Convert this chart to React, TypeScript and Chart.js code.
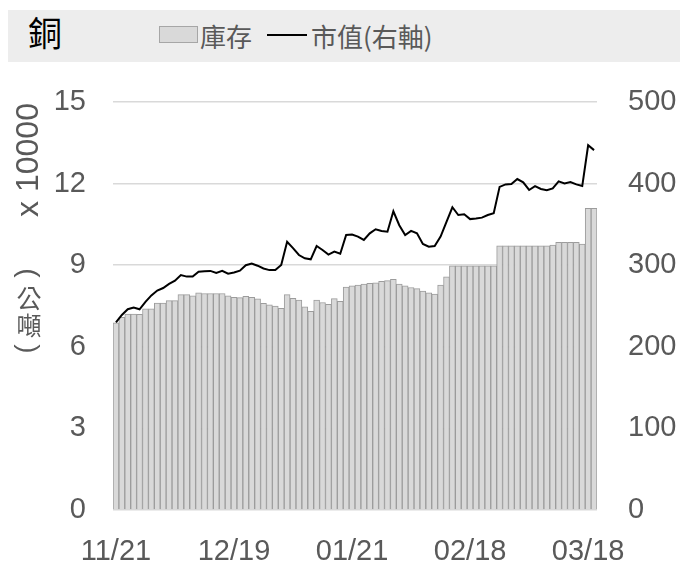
import React, { useEffect, useRef } from "react";
import { Chart, registerables } from "chart.js";

Chart.register(...registerables);

const categories = [
  "11/21", "11/22", "11/25", "11/26", "11/27", "11/28", "11/29",
  "12/02", "12/03", "12/04", "12/05", "12/06", "12/09", "12/10", "12/11", "12/12", "12/13",
  "12/16", "12/17", "12/18", "12/19", "12/20", "12/23", "12/24", "12/27", "12/30", "12/31",
  "01/02", "01/03", "01/06", "01/07", "01/08", "01/09", "01/10", "01/13", "01/14", "01/15",
  "01/16", "01/17", "01/20", "01/21", "01/22", "01/23", "01/24", "01/27", "01/28", "01/29",
  "01/30", "01/31", "02/03", "02/04", "02/05", "02/06", "02/07", "02/10", "02/11", "02/12",
  "02/13", "02/14", "02/17", "02/18", "02/19", "02/20", "02/21", "02/24", "02/25", "02/26",
  "02/27", "02/28", "03/03", "03/04", "03/05", "03/06", "03/07", "03/10", "03/11", "03/12",
  "03/13", "03/14", "03/17", "03/18", "03/19",
];

const shownDateLabels = ["11/21", "12/19", "01/21", "02/18", "03/18"];

// 庫存 (x 10000 公噸)
const stockValues = [
  6.88, 7.08, 7.2, 7.2, 7.19, 7.4, 7.4, 7.61, 7.61, 7.7,
  7.7, 7.92, 7.92, 7.87, 7.98, 7.96, 7.96, 7.96, 7.96, 7.87,
  7.82, 7.81, 7.86, 7.82, 7.76, 7.6, 7.54, 7.5, 7.41, 7.92,
  7.78, 7.72, 7.47, 7.3, 7.72, 7.63, 7.56, 7.77, 7.67, 8.2,
  8.24, 8.27, 8.31, 8.33, 8.35, 8.41, 8.43, 8.48, 8.31, 8.24,
  8.18, 8.14, 8.05, 7.98, 7.94, 8.27, 8.57, 8.98, 8.98, 8.98,
  8.98, 8.98, 8.98, 8.98, 8.98, 9.71, 9.71, 9.71, 9.71, 9.71,
  9.71, 9.71, 9.71, 9.71, 9.74, 9.84, 9.84, 9.84, 9.84, 9.78,
  11.09, 11.09,
];

// 市值 (右軸)
const marketValues = [
  230, 239, 246, 248, 246, 255, 263, 269, 272, 277,
  281, 288, 286, 286, 292, 292.5, 293, 290.5, 293, 289.5,
  291, 293.3, 300, 302, 299.4, 296, 294, 294, 300.2, 328.8,
  321, 312.5, 308.4, 307.2, 323.5, 318.6, 313, 316.6, 314, 337,
  337.5, 335, 331, 339, 344, 342, 341, 366, 349, 337,
  342, 339, 326, 322.7, 323.5, 335, 353, 371, 361.5, 362.4,
  356.5, 357.2, 358.3, 361.5, 363.6, 396, 399, 399.5, 405.6, 401.6,
  392.2, 397, 393.4, 391.8, 394.2, 402.8, 400.3, 402, 399, 397,
  447, 441,
];

const leftTicks = [0, 3, 6, 9, 12, 15];
const rightTicks = [0, 100, 200, 300, 400, 500];

const TICK_COLOR = "#595959";
const NUM_FONT = "'Liberation Sans', Arial, sans-serif";
const CJK_FONT = "'Noto Sans CJK TC', 'Noto Sans CJK SC', sans-serif";

export default function App() {
  const canvasRef = useRef<HTMLCanvasElement | null>(null);

  useEffect(() => {
    const canvas = canvasRef.current;
    if (!canvas) return;
    const chart = new Chart(canvas, {
      data: {
        labels: categories,
        datasets: [
          {
            type: "line",
            label: "市值(右軸)",
            data: marketValues,
            yAxisID: "y1",
            borderColor: "#000000",
            borderWidth: 2,
            pointRadius: 0,
            tension: 0,
            order: 0,
          },
          {
            type: "bar",
            label: "庫存",
            data: stockValues,
            yAxisID: "y",
            backgroundColor: "#d9d9d9",
            borderColor: "#9c9c9c",
            borderWidth: 1,
            borderSkipped: "bottom",
            barPercentage: 1.0,
            categoryPercentage: 1.0,
            order: 1,
          },
        ],
      },
      options: {
        responsive: false,
        animation: false,
        devicePixelRatio: 1,
        layout: { padding: { top: 102, left: 0, right: 0, bottom: 0 } },
        plugins: {
          legend: { display: false },
          tooltip: { enabled: false },
        },
        scales: {
          x: {
            type: "category",
            grid: { display: false },
            border: { display: false },
            ticks: {
              autoSkip: false,
              maxRotation: 0,
              minRotation: 0,
              padding: 17,
              color: TICK_COLOR,
              font: { family: NUM_FONT, size: 29 },
              callback: (_v: any, i: number) =>
                shownDateLabels.includes(categories[i]) ? categories[i] : null,
            },
            afterFit: (s: any) => {
              s.height = 52;
            },
          },
          y: {
            position: "left",
            min: 0,
            max: 15,
            afterBuildTicks: (s: any) => {
              s.ticks = leftTicks.map((v) => ({ value: v }));
            },
            grid: { color: "#d9d9d9", lineWidth: 1.5, drawTicks: false },
            border: { display: false },
            ticks: {
              padding: 27,
              color: TICK_COLOR,
              font: { family: NUM_FONT, size: 29 },
            },
            afterFit: (s: any) => {
              s.width = 113;
            },
          },
          y1: {
            position: "right",
            min: 0,
            max: 500,
            afterBuildTicks: (s: any) => {
              s.ticks = rightTicks.map((v) => ({ value: v }));
            },
            grid: { display: false, drawTicks: false },
            border: { display: false },
            ticks: {
              padding: 31,
              color: TICK_COLOR,
              font: { family: NUM_FONT, size: 29 },
            },
            afterFit: (s: any) => {
              s.width = 83;
            },
          },
        },
      },
    } as any);
    return () => chart.destroy();
  }, []);

  const parenStyle: React.CSSProperties = {
    display: "block",
    height: 22,
    lineHeight: "22px",
    transform: "rotate(90deg)",
    fontFamily: NUM_FONT,
    fontSize: 28,
  };

  return (
    <div
      style={{
        position: "absolute",
        left: 0,
        top: 0,
        width: 680,
        height: 562,
        background: "#ffffff",
        overflow: "hidden",
      }}
    >
      <div
        style={{
          position: "absolute",
          left: 8,
          top: 10,
          width: 672,
          height: 52,
          background: "#ededed",
        }}
      />
      <div
        style={{
          position: "absolute",
          left: 28,
          top: 9,
          fontFamily: CJK_FONT,
          fontSize: 34,
          lineHeight: "46px",
          color: "#000000",
        }}
      >
        銅
      </div>
      <div
        style={{
          position: "absolute",
          left: 159,
          top: 26,
          width: 37,
          height: 15,
          background: "#d9d9d9",
          border: "1px solid #a6a6a6",
        }}
      />
      <div
        style={{
          position: "absolute",
          left: 200,
          top: 17,
          fontFamily: CJK_FONT,
          fontSize: 26,
          lineHeight: "38px",
          color: TICK_COLOR,
          whiteSpace: "nowrap",
        }}
      >
        庫存
      </div>
      <div
        style={{
          position: "absolute",
          left: 267,
          top: 34,
          width: 40,
          height: 2,
          background: "#000000",
        }}
      />
      <div
        style={{
          position: "absolute",
          left: 311,
          top: 17,
          fontFamily: CJK_FONT,
          fontSize: 26,
          lineHeight: "38px",
          color: TICK_COLOR,
          whiteSpace: "nowrap",
        }}
      >
        市值(右軸)
      </div>
      <canvas
        ref={canvasRef}
        width={680}
        height={562}
        style={{ position: "absolute", left: 0, top: 0, width: 680, height: 562 }}
      />
      <div
        style={{
          position: "absolute",
          left: 27,
          top: 160,
          transform: "translate(-50%, -50%) rotate(-90deg)",
          fontFamily: NUM_FONT,
          fontSize: 32,
          lineHeight: "34px",
          color: TICK_COLOR,
          whiteSpace: "nowrap",
        }}
      >
        x 10000
      </div>
      <div
        style={{
          position: "absolute",
          left: 14,
          top: 262,
          width: 30,
          display: "flex",
          flexDirection: "column",
          alignItems: "center",
          fontFamily: CJK_FONT,
          fontSize: 25,
          lineHeight: "27px",
          color: TICK_COLOR,
        }}
      >
        <span style={parenStyle}>(</span>
        <span>公</span>
        <span>噸</span>
        <span style={parenStyle}>)</span>
      </div>
    </div>
  );
}
